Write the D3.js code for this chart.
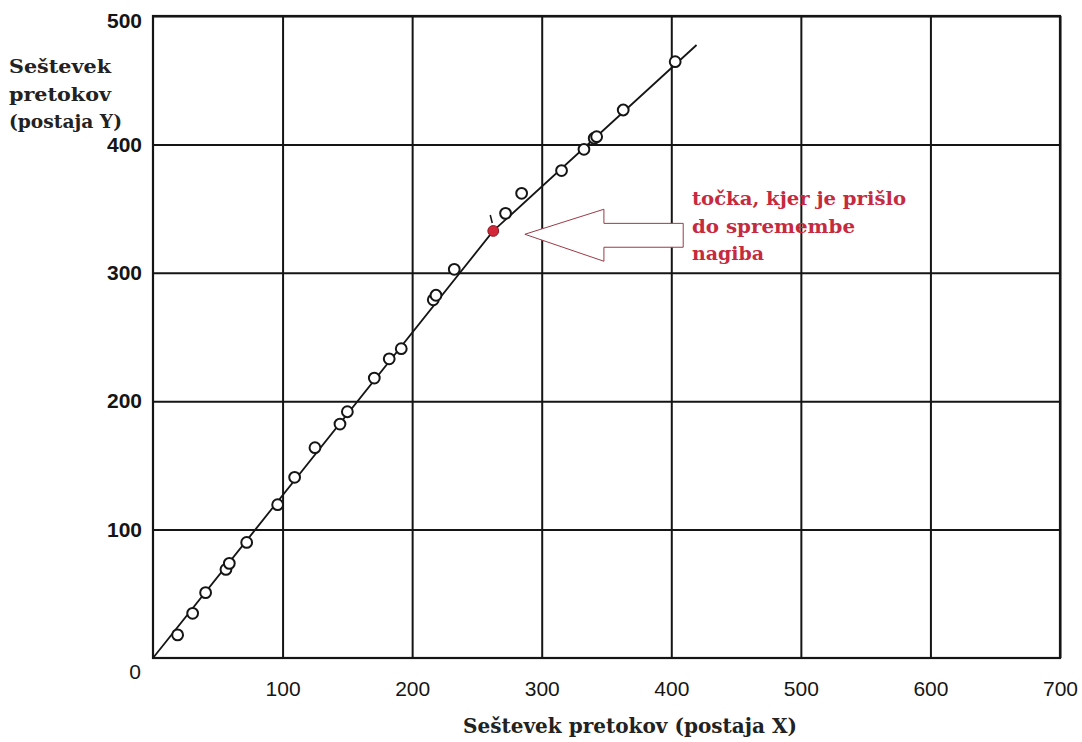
<!DOCTYPE html>
<html>
<head>
<meta charset="utf-8">
<script src="https://cdn.jsdelivr.net/npm/d3@7"></script>
<style>
  body { margin: 0; background: #fff; }
  svg { display: block; }
</style>
</head>
<body>
<div id="chart"></div>
<script>
// measured points (open circles)
const xVals = [19, 30.6, 40.6, 56.3, 58.9, 72.3, 96.2, 109.3, 125, 144.3, 150, 170.8, 182.3, 191.6,
  216.3, 218.4, 232.5, 272.1, 284.5, 315.3, 332.6, 340.5, 342.4, 362.9, 403];
const yVals = [18, 34.8, 50.9, 69, 73.7, 90, 119.4, 140.7, 163.8, 182.2, 191.8, 218, 233, 240.9,
  279, 282.5, 302.7, 346.3, 361.9, 379.6, 396.2, 404.8, 406, 426.8, 464.4];

// point where the slope changes
const breakX = [262.6];
const breakY = [332.6];

// double mass line
const lineX = [0, 262.6, 419.5];
const lineY = [0, 332.6, 477.4];

const xTicks = [100, 200, 300, 400, 500, 600, 700];
const yTicks = [100, 200, 300, 400, 500];

const annotLines = ["točka, kjer je prišlo", "do spremembe", "nagiba"];

const W = 1082, H = 742;
const x = d3.scaleLinear().domain([0, 700]).range([153, 1060]);
const y = d3.scaleLinear().domain([0, 500]).range([658, 16]);

const svg = d3.select("#chart").append("svg")
  .attr("width", W).attr("height", H);

const ink = "#151515";

// grid + ticks
const gx = svg.append("g")
  .attr("transform", `translate(0,${y(0)})`)
  .call(d3.axisBottom(x).tickValues(xTicks).tickSize(-(y(0) - y(500))).tickPadding(23));
gx.select(".domain").remove();
gx.selectAll("line").attr("stroke", ink).attr("stroke-width", 2);
gx.selectAll("text")
  .attr("fill", ink)
  .style("font-family", "'Liberation Sans', Arial, sans-serif")
  .style("font-size", "21px");

const gy = svg.append("g")
  .attr("transform", `translate(${x(0)},0)`)
  .call(d3.axisLeft(y).tickValues(yTicks).tickSize(-(x(700) - x(0))).tickPadding(11));
gy.select(".domain").remove();
gy.selectAll("line").attr("stroke", ink).attr("stroke-width", 2);
gy.selectAll("text")
  .attr("fill", ink)
  .attr("dy", d => d === 500 ? "0.55em" : "0.32em")
  .style("font-family", "'Liberation Sans', Arial, sans-serif")
  .style("font-weight", "bold")
  .style("font-size", "21px");

// frame
svg.append("rect")
  .attr("x", x(0)).attr("y", y(500))
  .attr("width", x(700) - x(0)).attr("height", y(0) - y(500))
  .attr("fill", "none").attr("stroke", ink).attr("stroke-width", 2.2);

// origin label
svg.append("text")
  .attr("x", x(0) - 18).attr("y", y(0) + 21)
  .attr("text-anchor", "middle")
  .attr("fill", ink)
  .style("font-family", "'Liberation Sans', Arial, sans-serif")
  .style("font-size", "21px")
  .text("0");

// line
const lineData = lineX.map((v, i) => [v, lineY[i]]);
svg.append("path")
  .datum(lineData)
  .attr("d", d3.line().x(d => x(d[0])).y(d => y(d[1])))
  .attr("fill", "none").attr("stroke", ink).attr("stroke-width", 1.8);

// little tick mark at the break
svg.append("path")
  .attr("d", `M${x(breakX[0]) - 3},${y(breakY[0]) - 16} L${x(breakX[0]) - 1},${y(breakY[0]) - 8}`)
  .attr("stroke", ink).attr("stroke-width", 1.6).attr("fill", "none");

// open circles
const pts = xVals.map((v, i) => ({ x: v, y: yVals[i] }));
svg.append("g").selectAll("circle")
  .data(pts)
  .join("circle")
  .attr("cx", d => x(d.x))
  .attr("cy", d => y(d.y))
  .attr("r", 5.4)
  .attr("fill", "#fff")
  .attr("stroke", ink)
  .attr("stroke-width", 2);

// red break point
svg.append("circle")
  .attr("cx", x(breakX[0])).attr("cy", y(breakY[0]))
  .attr("r", 5.4)
  .attr("fill", "#d3283a")
  .attr("stroke", "#8a1a24")
  .attr("stroke-width", 1);

// hollow arrow pointing at the break
const arrowPts = [[287, 330], [348, 349.5], [348, 338.5], [409.2, 338.5],
  [409.2, 319.9], [348, 319.9], [348, 309]];
svg.append("path")
  .attr("d", d3.line().x(d => x(d[0])).y(d => y(d[1])).curve(d3.curveLinearClosed)(arrowPts))
  .attr("fill", "#fff")
  .attr("stroke", "#9c3a46")
  .attr("stroke-width", 1);

// annotation text
const annotW = [214, 163, 72];
svg.append("g").selectAll("text")
  .data(annotLines)
  .join("text")
  .attr("x", 692)
  .attr("y", (d, i) => 205 + i * 27.5)
  .attr("textLength", (d, i) => annotW[i])
  .attr("lengthAdjust", "spacingAndGlyphs")
  .attr("fill", "#c62a3e")
  .style("font-family", "'DejaVu Serif', serif")
  .style("font-weight", "bold")
  .style("font-size", "18px")
  .text(d => d);

// axis titles
const yTitle = ["Seštevek", "pretokov", "(postaja Y)"];
const yTitleW = [102, 102, 113];
svg.append("g").selectAll("text")
  .data(yTitle)
  .join("text")
  .attr("x", 9)
  .attr("y", (d, i) => 73 + i * 27.5)
  .attr("textLength", (d, i) => yTitleW[i])
  .attr("lengthAdjust", "spacingAndGlyphs")
  .attr("fill", "#222")
  .style("font-family", "'DejaVu Serif', serif")
  .style("font-weight", "bold")
  .style("font-size", "19px")
  .text(d => d);

svg.append("text")
  .attr("x", 463).attr("y", 733)
  .attr("textLength", 334)
  .attr("lengthAdjust", "spacingAndGlyphs")
  .attr("fill", "#222")
  .style("font-family", "'DejaVu Serif', serif")
  .style("font-weight", "bold")
  .style("font-size", "20px")
  .text("Seštevek pretokov (postaja X)");
</script>
</body>
</html>
